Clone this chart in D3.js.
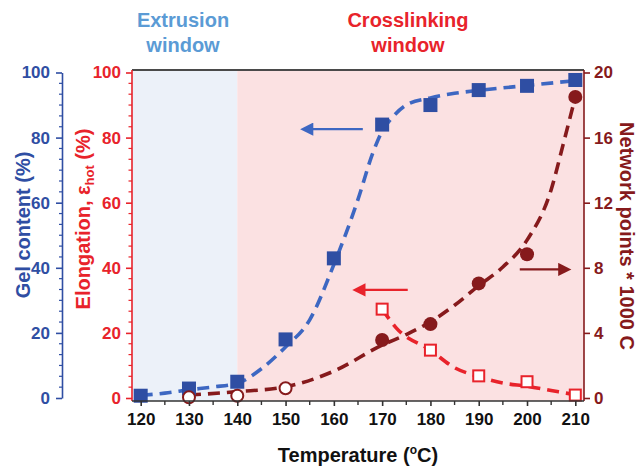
<!DOCTYPE html>
<html><head><meta charset="utf-8">
<script src="https://cdn.jsdelivr.net/npm/d3@7"></script>
<style>
html,body{margin:0;padding:0;background:#fff;}
text{font-family:"Liberation Sans",Arial,sans-serif;font-weight:bold;}
</style></head>
<body><svg id="c" width="642" height="466"></svg>
<script>
// ---- data ----
const temps = [120,130,140,150,160,170,180,190,200,210];
const gelContent = [0.7,2.9,5,18,42.9,84,90,94.6,95.9,97.7];
const elongT = [170,180,190,200,210];
const elongation = [27.3,14.7,6.8,5.0,0.9];
const netOpenT = [130,140,150];
const netOpen = [0.04,0.14,0.6];
const netFilledT = [170,180,190,200,210];
const netFilled = [3.56,4.54,7.04,8.83,18.5];
// fitted (dashed) curves
const gelFitT = [120,125,130,135,140,145,150,155,160,165,168,170,172,175,180,185,190,200,210];
const gelFit  = [0.8,1.5,2.5,3.4,4.5,9,15.7,24,41,61,75,82,86,90,92.2,93.6,94.5,96,97.5];
const netFitT = [130,140,150,160,170,175,180,185,190,195,200,205,207.5,210];
const netFit  = [0.18,0.39,0.69,1.65,3.25,3.9,4.68,5.7,6.9,8.05,9.7,12.8,15.6,18.5];
const elFitT = [170,173,180,185,190,195,200,205,210];
const elFit  = [27.3,21.4,14.7,9.3,6.6,4.6,3.6,2.3,1.0];
const leftTicks = [0,20,40,60,80,100];
const rightTicks = [0,4,8,12,16,20];
const xTicks = [120,130,140,150,160,170,180,190,200,210];
const windowSplit = 140;

// ---- colours ----
const BLUE="#2f4ea3", BLUEL="#3d67c2", RED="#e8232b", DRED="#861a1c";

const svg = d3.select("#c");
const L=132, R=584, T=70, B=401;
const x = d3.scaleLinear().domain([118.2,211.8]).range([L,R]);
const yL = d3.scaleLinear().domain([0,100]).range([398,72.5]);
const yR = d3.scaleLinear().domain([0,20]).range([398,72.5]);

// backgrounds
svg.append("rect").attr("x",L).attr("y",T).attr("width",x(windowSplit)-L).attr("height",B-T).attr("fill","#ecf1f9");
svg.append("rect").attr("x",x(windowSplit)).attr("y",T).attr("width",R-x(windowSplit)).attr("height",B-T).attr("fill","#fbe1e2");

// marker defs
const defs = svg.append("defs");
function mk(id,col){
  defs.append("marker").attr("id",id).attr("viewBox","0 0 10 10").attr("refX",2).attr("refY",5)
   .attr("markerWidth",7).attr("markerHeight",6).attr("orient","auto-start-reverse").attr("markerUnits","strokeWidth")
   .append("path").attr("d","M0,0L10,5L0,10Z").attr("fill",col);
}
mk("aB",BLUEL); mk("aR",RED); mk("aD",DRED);

// curves
const dash="12,7";
function curve(xs,ys,ysc,col){
  const pts = xs.map((t,i)=>[t,ys[i]]);
  svg.append("path").datum(pts)
   .attr("d",d3.line().x(d=>x(d[0])).y(d=>ysc(d[1])).curve(d3.curveMonotoneX))
   .attr("fill","none").attr("stroke",col).attr("stroke-width",3.6).attr("stroke-dasharray",dash);
}
curve(gelFitT,gelFit,yL,BLUEL);
curve(netFitT,netFit,yR,DRED);
curve(elFitT,elFit,yL,RED);

// points
svg.selectAll(".gel").data(temps.map((t,i)=>[t,gelContent[i]])).enter().append("rect")
 .attr("x",d=>x(d[0])-7).attr("y",d=>yL(d[1])-7).attr("width",14).attr("height",14).attr("fill",BLUE);
svg.selectAll(".el").data(elongT.map((t,i)=>[t,elongation[i]])).enter().append("rect")
 .attr("x",d=>x(d[0])-5.5).attr("y",d=>yL(d[1])-5.5).attr("width",11).attr("height",11)
 .attr("fill","#fff").attr("stroke",RED).attr("stroke-width",2);
svg.selectAll(".no").data(netOpenT.map((t,i)=>[t,netOpen[i]])).enter().append("circle")
 .attr("cx",d=>x(d[0])).attr("cy",d=>yR(d[1])).attr("r",6).attr("fill","#fff").attr("stroke",DRED).attr("stroke-width",2);
svg.selectAll(".nf").data(netFilledT.map((t,i)=>[t,netFilled[i]])).enter().append("circle")
 .attr("cx",d=>x(d[0])).attr("cy",d=>yR(d[1])).attr("r",7).attr("fill",DRED);

// arrows (annotation, in data units)
function arrow(x1,x2,y,col,id){
  svg.append("line").attr("x1",x(x1)).attr("x2",x(x2)).attr("y1",y).attr("y2",y)
   .attr("stroke",col).attr("stroke-width",2.2).attr("marker-end","url(#"+id+")");
}
arrow(166,155.2,yL(82.6),BLUEL,"aB");
arrow(175.3,166,yL(33.2),RED,"aR");
arrow(198.5,207,yR(7.9),DRED,"aD");

// frame top
svg.append("line").attr("x1",L).attr("x2",R).attr("y1",T).attr("y2",T).attr("stroke","#4a4a4a").attr("stroke-width",2);

// minor tick helper
function minors(step,count,max){const a=[];for(let v=0;v<=max+1e-9;v+=step){for(let k=1;k<count;k++){const m=v+k*step/count;if(m<max-1e-9)a.push(m);}}return a;}

// blue axis
const gB = svg.append("g").attr("transform","translate(62,0)");
gB.call(d3.axisLeft(yL).tickValues(leftTicks).tickSize(6).tickSizeOuter(0).tickPadding(6));
gB.selectAll(".tick line,.domain").attr("stroke",BLUE).attr("stroke-width",1.6);
gB.selectAll("text").attr("fill",BLUE).attr("font-size",17);
gB.selectAll(".mn").data(minors(20,6,100)).enter().append("line").attr("x1",-3).attr("x2",0)
 .attr("y1",d=>yL(d)).attr("y2",d=>yL(d)).attr("stroke",BLUE).attr("stroke-width",1.2);

// red axis
const gR = svg.append("g").attr("transform","translate("+L+",0)");
gR.call(d3.axisLeft(yL).tickValues(leftTicks).tickSize(6).tickSizeOuter(0).tickPadding(5));
gR.selectAll(".tick line,.domain").attr("stroke",RED).attr("stroke-width",1.6);
gR.selectAll("text").attr("fill",RED).attr("font-size",17);
gR.selectAll(".mn").data(minors(20,6,100)).enter().append("line").attr("x1",-3.5).attr("x2",0)
 .attr("y1",d=>yL(d)).attr("y2",d=>yL(d)).attr("stroke",RED).attr("stroke-width",1.2);
gR.select(".domain").attr("d","M0,"+T+"V"+B);

// right axis
const gRt = svg.append("g").attr("transform","translate("+R+",0)");
gRt.call(d3.axisRight(yR).tickValues(rightTicks).tickSize(6).tickSizeOuter(0).tickPadding(4));
gRt.selectAll(".tick line,.domain").attr("stroke",DRED).attr("stroke-width",1.6);
gRt.selectAll("text").attr("fill",DRED).attr("font-size",17);
gRt.select(".domain").attr("d","M0,"+T+"V"+B);

// bottom axis
const gX = svg.append("g").attr("transform","translate(0,"+B+")");
gX.call(d3.axisBottom(x).tickValues(xTicks).tickSize(5).tickSizeOuter(0).tickPadding(7));
gX.selectAll(".tick line,.domain").attr("stroke","#333").attr("stroke-width",1.6);
gX.select(".domain").attr("d","M"+L+",0H"+R);
gX.selectAll("text").attr("fill","#111").attr("font-size",17);
gX.selectAll(".mn").data(xTicks.slice(0,-1).map(t=>t+5)).enter().append("line").attr("y1",0).attr("y2",4)
 .attr("x1",d=>x(d)).attr("x2",d=>x(d)).attr("stroke","#333").attr("stroke-width",1.4);

// axis titles
svg.append("text").attr("transform","translate(30,225) rotate(-90)").attr("text-anchor","middle")
 .attr("fill",BLUE).attr("font-size",20).text("Gel content (%)");
const el = svg.append("text").attr("transform","translate(90,219) rotate(-90)").attr("text-anchor","middle")
 .attr("fill",RED).attr("font-size",20);
el.append("tspan").text("Elongation, ε");
el.append("tspan").attr("font-size",13).attr("dy",4).text("hot");
el.append("tspan").attr("dy",-4).text(" (%)");
svg.append("text").attr("transform","translate(620,236) rotate(90)").attr("text-anchor","middle")
 .attr("fill",DRED).attr("font-size",20).text("Network points * 1000 C");
const tx = svg.append("text").attr("x",358).attr("y",462).attr("text-anchor","middle").attr("fill","#111").attr("font-size",20);
tx.append("tspan").text("Temperature (");
tx.append("tspan").attr("font-size",12).attr("dy",-8).text("o");
tx.append("tspan").attr("dy",8).text("C)");

// window titles
function title(xc,lines,col){
  const t=svg.append("text").attr("text-anchor","middle").attr("fill",col).attr("font-size",20);
  lines.forEach((s,i)=>t.append("tspan").attr("x",xc).attr("y",27+i*25).text(s));
}
title(183,["Extrusion","window"],"#5b9bd5");
title(408,["Crosslinking","window"],RED);
</script></body></html>
